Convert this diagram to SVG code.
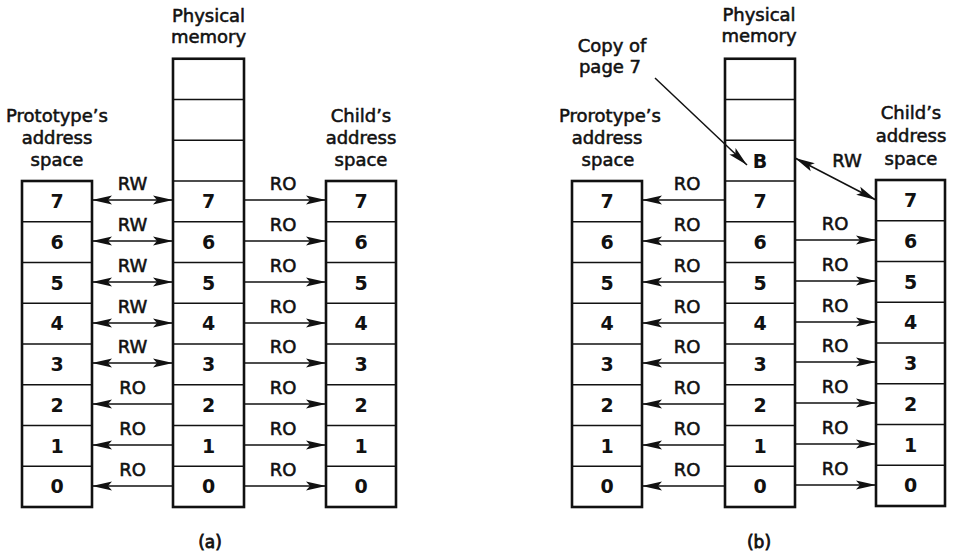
<svg xmlns="http://www.w3.org/2000/svg" width="954" height="556" viewBox="0 0 954 556">
<style>
  .box { fill: none; stroke: #111; stroke-width: 2.6; }
  .div { stroke: #111; stroke-width: 1.4; }
  .t { font-family: "DejaVu Sans", "Liberation Sans", sans-serif; font-size: 18px; fill: #111; stroke: #111; stroke-width: 0.55; text-anchor: middle; }
  .d { font-family: "DejaVu Sans", "Liberation Sans", sans-serif; font-size: 19px; font-weight: bold; fill: #111; text-anchor: middle; }
  .cap { font-size: 17px; stroke-width: 0.8; }
  .c { stroke: #111; stroke-width: 1.5; fill: none; }
  .e { marker-end: url(#ah); }
  .s { marker-start: url(#ah); }
</style>
<defs>
  <marker id="ah" markerUnits="userSpaceOnUse" viewBox="0 0 20 10" markerWidth="20" markerHeight="10" refX="20" refY="5" orient="auto-start-reverse">
    <path d="M0,0.5 L20,5 L0,9.5 L4,5 z" fill="#111"/>
  </marker>
  <g id="rows8">
    <line x1="0" y1="40.75" x2="70" y2="40.75"/>
    <line x1="0" y1="81.5" x2="70" y2="81.5"/>
    <line x1="0" y1="122.25" x2="70" y2="122.25"/>
    <line x1="0" y1="163" x2="70" y2="163"/>
    <line x1="0" y1="203.75" x2="70" y2="203.75"/>
    <line x1="0" y1="244.5" x2="70" y2="244.5"/>
    <line x1="0" y1="285.25" x2="70" y2="285.25"/>
  </g>
  <g id="nums">
    <text x="35" y="27">7</text>
    <text x="35" y="67.5">6</text>
    <text x="35" y="108.5">5</text>
    <text x="35" y="149">4</text>
    <text x="35" y="190">3</text>
    <text x="35" y="230.5">2</text>
    <text x="35" y="271.5">1</text>
    <text x="35" y="312">0</text>
  </g>
</defs>
<rect width="954" height="556" fill="#fff"/>

<!-- Panel (a) -->
<g id="proto-a">
  <text class="t" x="57" y="122">Prototype’s</text>
  <text class="t" x="57" y="144">address</text>
  <text class="t" x="57" y="166">space</text>
  <rect class="box" x="22" y="181" width="70" height="326"/>
  <use href="#rows8" x="22" y="181" class="div"/>
  <use href="#nums" x="22" y="181" class="d"/>
</g>
<g id="phys-a">
  <text class="t" x="208.5" y="22">Physical</text>
  <text class="t" x="208.5" y="43">memory</text>
  <rect class="box" x="173" y="58.75" width="71" height="448.25"/>
  <g class="div">
    <line x1="173" y1="99.5" x2="244" y2="99.5"/>
    <line x1="173" y1="140.25" x2="244" y2="140.25"/>
    <line x1="173" y1="181" x2="244" y2="181"/>
  </g>
  <use href="#rows8" x="173" y="181" class="div"/>
  <use href="#nums" x="173.5" y="181" class="d"/>
</g>
<g id="child-a">
  <text class="t" x="361" y="122">Child’s</text>
  <text class="t" x="361" y="144">address</text>
  <text class="t" x="361" y="166">space</text>
  <rect class="box" x="326" y="181" width="70" height="326"/>
  <use href="#rows8" x="326" y="181" class="div"/>
  <use href="#nums" x="326" y="181" class="d"/>
</g>
<g id="caption-a">
  <text class="t cap" x="210" y="548">(a)</text>
</g>

<!-- Panel (b) -->
<g id="copy-note">
  <text class="t" x="612" y="52">Copy of</text>
  <text class="t" x="610" y="73">page 7</text>
</g>
<g id="proto-b">
  <text class="t" x="610" y="122">Prorotype’s</text>
  <text class="t" x="607" y="144">address</text>
  <text class="t" x="608" y="166">space</text>
  <rect class="box" x="572" y="181" width="70" height="326"/>
  <use href="#rows8" x="572" y="181" class="div"/>
  <use href="#nums" x="572" y="181" class="d"/>
</g>
<g id="phys-b">
  <text class="t" x="759" y="21">Physical</text>
  <text class="t" x="759" y="42">memory</text>
  <rect class="box" x="725" y="58.75" width="70" height="448.25"/>
  <g class="div">
    <line x1="725" y1="99.5" x2="795" y2="99.5"/>
    <line x1="725" y1="140.25" x2="795" y2="140.25"/>
    <line x1="725" y1="181" x2="795" y2="181"/>
  </g>
  <text class="d" x="760" y="167.5">B</text>
  <use href="#rows8" x="725" y="181" class="div"/>
  <use href="#nums" x="725" y="181" class="d"/>
</g>
<g id="child-b">
  <text class="t" x="911" y="119">Child’s</text>
  <text class="t" x="911" y="142">address</text>
  <text class="t" x="911" y="165">space</text>
  <rect class="box" x="876" y="180" width="69" height="326"/>
  <use href="#rows8" x="876" y="180" class="div"/>
  <use href="#nums" x="875.5" y="180" class="d"/>
</g>
<g id="caption-b">
  <text class="t cap" x="759" y="548">(b)</text>
</g>

<!-- Connectors -->
<g id="connectors">
  <!-- (a) left: RW double arrows rows 7..3, RO left arrows rows 2..0 -->
  <g class="c">
    <line class="e s" x1="92" y1="200" x2="173" y2="200"/>
    <line class="e s" x1="92" y1="241" x2="173" y2="241"/>
    <line class="e s" x1="92" y1="282" x2="173" y2="282"/>
    <line class="e s" x1="92" y1="323" x2="173" y2="323"/>
    <line class="e s" x1="92" y1="363" x2="173" y2="363"/>
    <line class="e" x1="173" y1="404" x2="92" y2="404"/>
    <line class="e" x1="173" y1="445" x2="92" y2="445"/>
    <line class="e" x1="173" y1="486" x2="92" y2="486"/>
  </g>
  <g>
    <text class="t" x="132.5" y="190">RW</text>
    <text class="t" x="132.5" y="231">RW</text>
    <text class="t" x="132.5" y="272">RW</text>
    <text class="t" x="132.5" y="313">RW</text>
    <text class="t" x="132.5" y="353">RW</text>
    <text class="t" x="132.5" y="394">RO</text>
    <text class="t" x="132.5" y="435">RO</text>
    <text class="t" x="132.5" y="476">RO</text>
  </g>
  <!-- (a) right: RO arrows to child -->
  <g class="c">
    <line class="e" x1="244" y1="200" x2="326" y2="200"/>
    <line class="e" x1="244" y1="241" x2="326" y2="241"/>
    <line class="e" x1="244" y1="282" x2="326" y2="282"/>
    <line class="e" x1="244" y1="323" x2="326" y2="323"/>
    <line class="e" x1="244" y1="363" x2="326" y2="363"/>
    <line class="e" x1="244" y1="404" x2="326" y2="404"/>
    <line class="e" x1="244" y1="445" x2="326" y2="445"/>
    <line class="e" x1="244" y1="486" x2="326" y2="486"/>
  </g>
  <g>
    <text class="t" x="283" y="190">RO</text>
    <text class="t" x="283" y="231">RO</text>
    <text class="t" x="283" y="272">RO</text>
    <text class="t" x="283" y="313">RO</text>
    <text class="t" x="283" y="353">RO</text>
    <text class="t" x="283" y="394">RO</text>
    <text class="t" x="283" y="435">RO</text>
    <text class="t" x="283" y="476">RO</text>
  </g>
  <!-- (b) left: RO arrows to prototype -->
  <g class="c">
    <line class="e" x1="725" y1="200" x2="642" y2="200"/>
    <line class="e" x1="725" y1="241" x2="642" y2="241"/>
    <line class="e" x1="725" y1="282" x2="642" y2="282"/>
    <line class="e" x1="725" y1="323" x2="642" y2="323"/>
    <line class="e" x1="725" y1="363" x2="642" y2="363"/>
    <line class="e" x1="725" y1="404" x2="642" y2="404"/>
    <line class="e" x1="725" y1="445" x2="642" y2="445"/>
    <line class="e" x1="725" y1="486" x2="642" y2="486"/>
  </g>
  <g>
    <text class="t" x="687" y="190">RO</text>
    <text class="t" x="687" y="231">RO</text>
    <text class="t" x="687" y="272">RO</text>
    <text class="t" x="687" y="313">RO</text>
    <text class="t" x="687" y="353">RO</text>
    <text class="t" x="687" y="394">RO</text>
    <text class="t" x="687" y="435">RO</text>
    <text class="t" x="687" y="476">RO</text>
  </g>
  <!-- (b) right: RO arrows rows 6..0, RW from B to child 7 -->
  <g class="c">
    <line class="e s" x1="795" y1="158" x2="876" y2="200"/>
    <line class="e" x1="795" y1="240" x2="876" y2="240"/>
    <line class="e" x1="795" y1="281" x2="876" y2="281"/>
    <line class="e" x1="795" y1="322" x2="876" y2="322"/>
    <line class="e" x1="795" y1="362" x2="876" y2="362"/>
    <line class="e" x1="795" y1="403" x2="876" y2="403"/>
    <line class="e" x1="795" y1="444" x2="876" y2="444"/>
    <line class="e" x1="795" y1="485" x2="876" y2="485"/>
    <line class="e" x1="655" y1="78" x2="747" y2="165"/>
  </g>
  <g>
    <text class="t" x="847" y="167">RW</text>
    <text class="t" x="835" y="230">RO</text>
    <text class="t" x="835" y="271">RO</text>
    <text class="t" x="835" y="312">RO</text>
    <text class="t" x="835" y="352">RO</text>
    <text class="t" x="835" y="393">RO</text>
    <text class="t" x="835" y="434">RO</text>
    <text class="t" x="835" y="475">RO</text>
  </g>
</g>
</svg>
